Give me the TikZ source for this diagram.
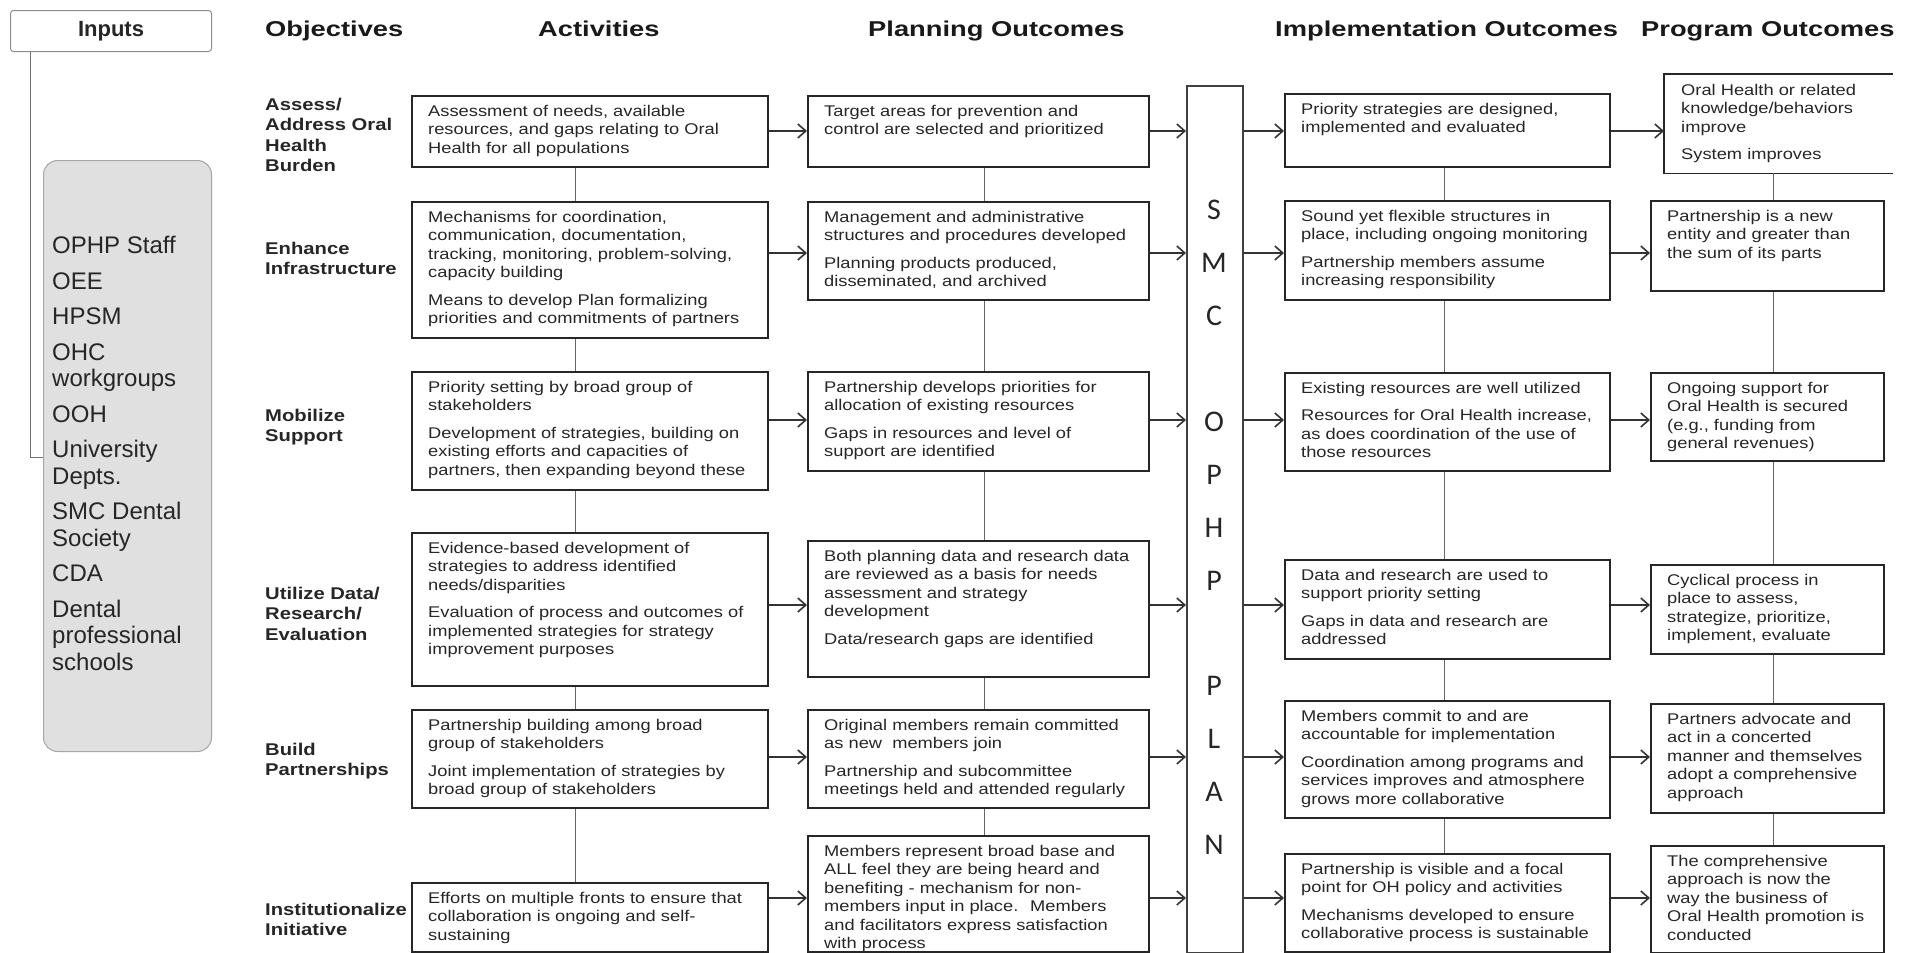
\documentclass[tikz,border=0pt]{standalone}
\usepackage{fontspec}
\setmainfont{Liberation Sans}
\newfontfamily\bodyf[FakeStretch=1.18]{Liberation Sans}
\newfontfamily\objf[FakeStretch=1.19]{Liberation Sans}
\newfontfamily\headf[FakeStretch=1.27]{Liberation Sans}
\newfontfamily\smcf{Carlito}
\usetikzlibrary{arrows.meta}
\tikzset{
  boxs/.style={draw=black!85, line width=1.6pt, fill=white, inner sep=0pt},
  txts/.style={inner sep=0pt, align=left, text=black!85, font=\bodyf\fontsize{15.5}{18.5}\selectfont},
  objs/.style={inner sep=0pt, align=left, text=black!85, font=\objf\bfseries\fontsize{17}{20.5}\selectfont, anchor=north west},
  heads/.style={inner sep=0pt, text=black!90, font=\headf\bfseries\fontsize{21.5}{25}\selectfont, anchor=base west},
  arr/.style={-{Straight Barb[length=8pt,width=14pt]}, line width=1.6pt, draw=black!80},
  link/.style={draw=black!60, line width=1pt},
}
\newcommand\bbox[6]{%
  \node[boxs, minimum width={#4-#2}, minimum height={#5-#3}, anchor=north west] (#1) at (#2,#3) {};
  \node[txts, anchor=north west] (#1-t) at ([xshift=17pt,yshift=-10pt]#1.north west) {#6};
}
\begin{document}
\begin{tikzpicture}[x=1pt,y=-1pt]
\useasboundingbox (0,0) rectangle (1912,953);
% coordinates
\coordinate (r1) at (0,131);
\coordinate (r2) at (0,253);
\coordinate (r3) at (0,420);
\coordinate (r4) at (0,605);
\coordinate (r5) at (0,757);
\coordinate (r6) at (0,898);
\coordinate (cA) at (575,0);
\coordinate (cP) at (984,0);
\coordinate (cI) at (1444,0);
\coordinate (cO) at (1773,0);
\coordinate (ic) at (30,0);
\coordinate (ir) at (0,457);

% Inputs
\node[draw=black!45, line width=1pt, rounded corners=3pt, minimum width=201pt, minimum height=41pt, anchor=north west, inner sep=0pt,
      font=\bfseries\fontsize{22}{26}\selectfont, text=black!85] (inp) at (10,10) {Inputs};
\node[draw=black!35, fill=black!12, line width=1pt, rounded corners=14pt, minimum width=168pt, minimum height=591pt, anchor=north west, inner sep=0pt] (grey) at (43,160) {};
\draw[draw=black!55, line width=1pt] (inp.south -| ic) |- (grey.west |- ir);
\node[inner sep=0pt, align=left, anchor=north west, text=black!85, font=\fontsize{24}{26.5}\selectfont] (inlist) at (52,236)
 {OPHP Staff\\[9pt]OEE\\[9pt]HPSM\\[9pt]OHC\\workgroups\\[9pt]OOH\\[9pt]University\\Depts.\\[9pt]SMC Dental\\Society\\[9pt]CDA\\[9pt]Dental\\professional\\schools};

% headers
\node[heads] (hobj) at (265,36) {Objectives};
\node[heads] (hact) at (538,36) {Activities};
\node[heads] (hpla) at (868,36) {Planning Outcomes};
\node[heads] (himp) at (1275,36) {Implementation Outcomes};
\node[heads] (hpro) at (1641,36) {Program Outcomes};

% objectives
\node[objs] (ob1) at (265,97.6) {Assess/\\Address Oral\\Health\\Burden};
\node[objs] (ob2) at (265,241.6) {Enhance\\Infrastructure};
\node[objs] (ob3) at (265,408.6) {Mobilize\\Support};
\node[objs] (ob4) at (265,586.6) {Utilize Data/\\Research/\\Evaluation};
\node[objs] (ob5) at (265,742.6) {Build\\Partnerships};
\node[objs] (ob6) at (265,902.6) {Institutionalize\\Initiative};

% activities
\bbox{A1}{411}{95}{767}{166}{Assessment of needs, available\\resources, and gaps relating to Oral\\Health for all populations}
\bbox{A2}{411}{201}{767}{337}{Mechanisms for coordination,\\communication, documentation,\\tracking, monitoring, problem-solving,\\capacity building\\[9pt]Means to develop Plan formalizing\\priorities and commitments of partners}
\bbox{A3}{411}{371}{767}{489}{Priority setting by broad group of\\stakeholders\\[9pt]Development of strategies, building on\\existing efforts and capacities of\\partners, then expanding beyond these}
\bbox{A4}{411}{532}{767}{685}{Evidence-based development of\\strategies to address identified\\needs/disparities\\[9pt]Evaluation of process and outcomes of\\implemented strategies for strategy\\improvement purposes}
\bbox{A5}{411}{709}{767}{807}{Partnership building among broad\\group of stakeholders\\[9pt]Joint implementation of strategies by\\broad group of stakeholders}
\bbox{A6}{411}{882}{767}{951}{Efforts on multiple fronts to ensure that\\collaboration is ongoing and self-\\sustaining}

% planning outcomes
\bbox{P1}{807}{95}{1148}{166}{Target areas for prevention and\\control are selected and prioritized}
\bbox{P2}{807}{201}{1148}{299}{Management and administrative\\structures and procedures developed\\[9pt]Planning products produced,\\disseminated, and archived}
\bbox{P3}{807}{371}{1148}{470}{Partnership develops priorities for\\allocation of existing resources\\[9pt]Gaps in resources and level of\\support are identified}
\bbox{P4}{807}{540}{1148}{676}{Both planning data and research data\\are reviewed as a basis for needs\\assessment and strategy\\development\\[9pt]Data/research gaps are identified}
\bbox{P5}{807}{709}{1148}{807}{Original members remain committed\\as new~ members join\\[9pt]Partnership and subcommittee\\meetings held and attended regularly}
\bbox{P6}{807}{835}{1148}{951}{Members represent broad base and\\ALL feel they are being heard and\\benefiting - mechanism for non-\\members input in place.~ Members\\and facilitators express satisfaction\\with process}

% SMC OPHP PLAN
\node[draw=black!75, line width=1.6pt, fill=white, minimum width=56pt, minimum height=867pt, anchor=north west, inner sep=0pt] (smc) at (1186,85) {};
\node[inner sep=0pt, align=center, text=black!85, font=\smcf\fontsize{30}{52.9}\selectfont] (smc-t) at (1214,527.5)
 {S\\M\\C\\[52.9pt]O\\P\\H\\P\\[52.9pt]P\\L\\A\\N};

% implementation outcomes
\bbox{I1}{1284}{93}{1609}{166}{Priority strategies are designed,\\implemented and evaluated}
\bbox{I2}{1284}{200}{1609}{299}{Sound yet flexible structures in\\place, including ongoing monitoring\\[9pt]Partnership members assume\\increasing responsibility}
\bbox{I3}{1284}{372}{1609}{470}{Existing resources are well utilized\\[9pt]Resources for Oral Health increase,\\as does coordination of the use of\\those resources}
\bbox{I4}{1284}{559}{1609}{658}{Data and research are used to\\support priority setting\\[9pt]Gaps in data and research are\\addressed}
\bbox{I5}{1284}{700}{1609}{817}{Members commit to and are\\accountable for implementation\\[9pt]Coordination among programs and\\services improves and atmosphere\\grows more collaborative}
\bbox{I6}{1284}{853}{1609}{951}{Partnership is visible and a focal\\point for OH policy and activities\\[9pt]Mechanisms developed to ensure\\collaborative process is sustainable}

% program outcomes
\node[inner sep=0pt, minimum width=229pt, minimum height=99pt, anchor=north west] (O1) at (1664,74) {};
\draw[draw=black!85, line width=1.6pt] (O1.north east) -- (O1.north west) -- (O1.south west) -- (O1.south east);
\node[txts, anchor=north west] (O1-t) at ([xshift=17pt,yshift=-10pt]O1.north west) {Oral Health or related\\knowledge/behaviors\\improve\\[9pt]System improves};
\bbox{O2}{1650}{200}{1883}{290}{Partnership is a new\\entity and greater than\\the sum of its parts}
\bbox{O3}{1650}{372}{1883}{460}{Ongoing support for\\Oral Health is secured\\(e.g., funding from\\general revenues)}
\bbox{O4}{1650}{564}{1883}{653}{Cyclical process in\\place to assess,\\strategize, prioritize,\\implement, evaluate}
\bbox{O5}{1650}{703}{1883}{812}{Partners advocate and\\act in a concerted\\manner and themselves\\adopt a comprehensive\\approach}
\bbox{O6}{1650}{845}{1883}{952}{The comprehensive\\approach is now the\\way the business of\\Oral Health promotion is\\conducted}

% vertical links
\foreach \a/\b in {1/2,2/3,3/4,4/5,5/6} {
  \draw[link] (A\a.south -| cA) -- (A\b.north -| cA);
  \draw[link] (P\a.south -| cP) -- (P\b.north -| cP);
  \draw[link] (I\a.south -| cI) -- (I\b.north -| cI);
  \draw[link] (O\a.south -| cO) -- (O\b.north -| cO);
}

% arrows
\foreach \i in {1,...,6} {
  \draw[arr] (A\i.east |- r\i) -- (P\i.west |- r\i);
  \draw[arr] (P\i.east |- r\i) -- (smc.west |- r\i);
  \draw[arr] (smc.east |- r\i) -- (I\i.west |- r\i);
  \draw[arr] (I\i.east |- r\i) -- (O\i.west |- r\i);
}
\end{tikzpicture}
\end{document}
